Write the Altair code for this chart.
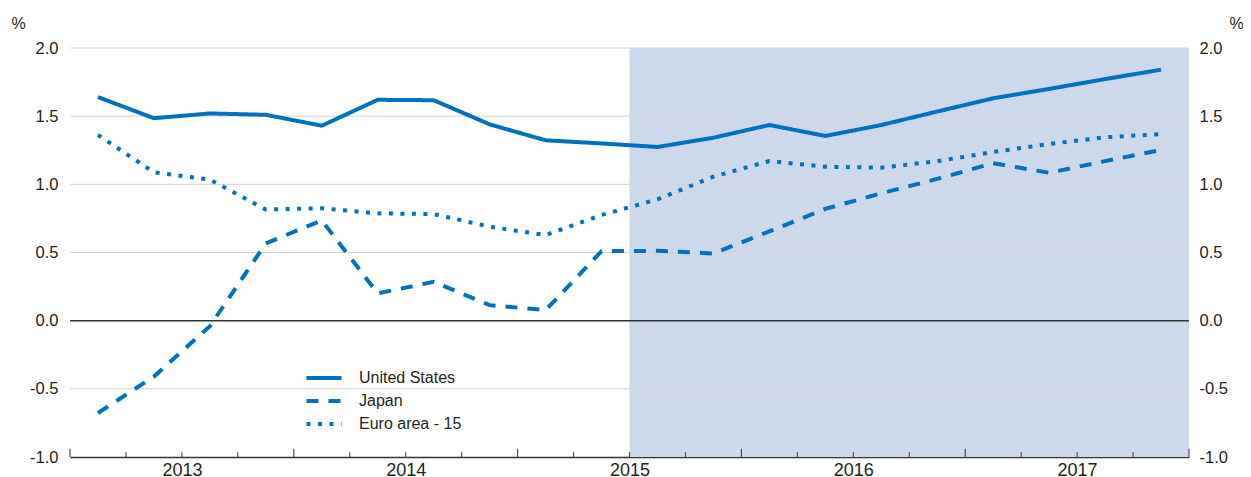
import altair as alt
import pandas as pd

# ---------------- data ----------------
periods = ["2013Q1", "2013Q2", "2013Q3", "2013Q4",
           "2014Q1", "2014Q2", "2014Q3", "2014Q4",
           "2015Q1", "2015Q2", "2015Q3", "2015Q4",
           "2016Q1", "2016Q2", "2016Q3", "2016Q4",
           "2017Q1", "2017Q2", "2017Q3", "2017Q4"]

united_states = [1.64, 1.485, 1.52, 1.51, 1.43, 1.62, 1.617, 1.44,
                 1.323, 1.30, 1.274, 1.342, 1.435, 1.355, 1.435, 1.534,
                 1.631, 1.70, 1.772, 1.841]
japan = [-0.677, -0.41, -0.04, 0.567, 0.735, 0.20, 0.285, 0.114,
         0.077, 0.51, 0.512, 0.493, 0.655, 0.82, 0.934, 1.04,
         1.155, 1.085, 1.17, 1.252]
euro_area = [1.362, 1.088, 1.035, 0.815, 0.824, 0.787, 0.782, 0.689,
             0.628, 0.775, 0.89, 1.056, 1.171, 1.129, 1.122, 1.17,
             1.237, 1.296, 1.345, 1.368]

series_names = ["United States", "Japan", "Euro area - 15"]
year_labels = [2013, 2014, 2015, 2016, 2017]
y_ticks = [-1.0, -0.5, 0.0, 0.5, 1.0, 1.5, 2.0]
projection_start = "2015Q3"

# ---------------- helpers ----------------
def to_time(p):
    return int(p[:4]) + (int(p[5]) - 1) / 4.0

def mid(p):
    return to_time(p) + 0.125

rows = []
for name, vals in zip(series_names, [united_states, japan, euro_area]):
    for p, v in zip(periods, vals):
        rows.append({"series": name, "t": mid(p), "value": v})
lines_df = pd.DataFrame(rows)

x_lo, x_hi = year_labels[0], year_labels[-1] + 1
y_lo, y_hi = y_ticks[0], y_ticks[-1]

shade_df = pd.DataFrame({"start": [to_time(projection_start)], "end": [x_hi],
                         "lo": [y_lo], "hi": [y_hi]})
grid_df = pd.DataFrame({"v": [v for v in y_ticks if v != 0.0 and v != y_lo]})
zero_df = pd.DataFrame({"v": [0.0]})
bounds = [x_lo + i / 4.0 for i in range(int((x_hi - x_lo) * 4) + 1)]
tick_df = pd.DataFrame({"t": bounds, "major": [abs(b - round(b)) < 1e-9 for b in bounds]})
label_df = pd.DataFrame({"t": [y + 0.5 for y in year_labels]})

BLUE = "#0071bc"
TXT = "#231f20"
FONT = "Liberation Sans"
W, H = 1119, 409

xs = alt.Scale(domain=[x_lo, x_hi], nice=False, zero=False)
ys = alt.Scale(domain=[y_lo, y_hi], nice=False, zero=False)

label_expr = "replace(format(datum.value, '.1f'), '\u2212', '-')"

shade = alt.Chart(shade_df).mark_rect(color="#cdd8eb").encode(
    x=alt.X("start:Q", scale=xs, axis=None),
    x2="end:Q",
    y=alt.Y("lo:Q", scale=ys, axis=None),
    y2="hi:Q",
)

grid = alt.Chart(grid_df).mark_rule(color="#d3d3d3", strokeWidth=1).encode(
    y=alt.Y("v:Q", scale=ys, axis=alt.Axis(
        orient="left", values=y_ticks, labelExpr=label_expr,
        domain=False, ticks=False, grid=False,
        labelFont=FONT, labelFontSize=16.5, labelColor=TXT, labelPadding=12,
        title="%", titleAngle=0, titleX=-59, titleY=-20, titleAlign="left",
        titleBaseline="alphabetic", titleFont=FONT, titleFontSize=16,
        titleFontWeight="normal", titleColor=TXT)),
)

zero = alt.Chart(zero_df).mark_rule(color="#333333", strokeWidth=1.5).encode(
    y=alt.Y("v:Q", scale=ys, axis=None),
)

ticks = alt.Chart(tick_df).transform_calculate(
    y1=str(y_lo),
    y2=f"datum.major ? {y_lo} + 0.06 : {y_lo} + 0.035",
).mark_rule(color="#333333", strokeWidth=1).encode(
    x=alt.X("t:Q", scale=xs, axis=alt.Axis(
        orient="bottom", values=list(label_df["t"]),
        labelExpr="'' + floor(datum.value)",
        domain=True, domainColor="#333333", domainWidth=1.5,
        ticks=False, grid=False, labelFont=FONT, labelFontSize=18,
        labelColor=TXT, labelPadding=4, title=None)),
    y=alt.Y("y1:Q", scale=ys, axis=None),
    y2="y2:Q",
)

lines = alt.Chart(lines_df).mark_line(
    color=BLUE, strokeWidth=4, strokeCap="butt", strokeJoin="miter"
).encode(
    x=alt.X("t:Q", scale=xs, axis=None),
    y=alt.Y("value:Q", scale=ys, axis=alt.Axis(
        orient="right", values=y_ticks, labelExpr=label_expr,
        domain=False, ticks=False, grid=False,
        labelFont=FONT, labelFontSize=16.5, labelColor=TXT, labelPadding=10,
        title="%", titleAngle=0, titleX=40, titleY=-20, titleAlign="left",
        titleBaseline="alphabetic", titleFont=FONT, titleFontSize=16,
        titleFontWeight="normal", titleColor=TXT)),
    strokeDash=alt.StrokeDash("series:N", scale=alt.Scale(
        domain=series_names, range=[[1, 0], [12, 10], [4, 7.5]]),
        legend=alt.Legend(
            orient="none", legendX=243, legendY=319, title=None,
            symbolType="M-2,0H2", symbolSize=306, symbolStrokeWidth=4,
            symbolStrokeColor=BLUE, labelFont=FONT, labelFontSize=16,
            labelColor=TXT, labelOffset=24, rowPadding=4, padding=0)),
    order="t:Q",
)

chart = alt.layer(shade, grid, zero, ticks, lines).resolve_axis(
    x="independent", y="independent"
).properties(
    width=W, height=H,
    autosize=alt.AutoSizeParams(type="none"),
    padding={"left": 62, "top": 40, "right": 54, "bottom": 22},
).configure_view(stroke=None)

chart.save("out.html", embed_options={"renderer": "svg", "actions": False})
